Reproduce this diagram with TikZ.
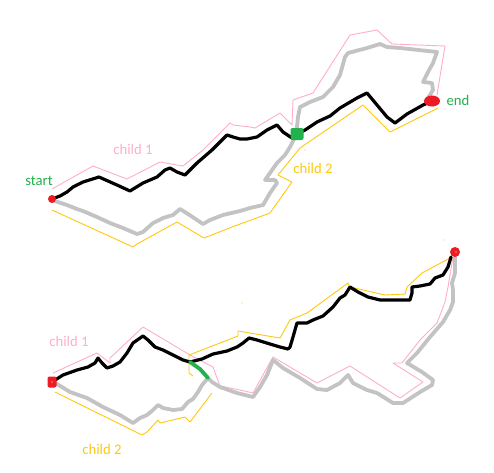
\documentclass[tikz,border=0pt]{standalone}
\usepackage{fontspec}
\setmainfont{Carlito}
\usetikzlibrary{shapes.geometric}
\definecolor{pgreen}{HTML}{22B14C}
\definecolor{ppink}{HTML}{FFAEC9}
\definecolor{pyellow}{HTML}{FFC90E}
\definecolor{pred}{HTML}{ED1C24}
\definecolor{pgray}{HTML}{C3C3C3}
\tikzset{
  blackpath/.style={draw=black,line width=3.2pt,line join=round,line cap=round},
  graypath/.style={draw=pgray,line width=3.8pt,line join=round,line cap=round},
  pinkline/.style={draw=ppink,line width=0.9pt,line join=round},
  yellowline/.style={draw=pyellow,line width=0.9pt,line join=round},
  greenpath/.style={draw=pgreen,line width=3.8pt,line cap=round},
  lbl/.style={font=\fontsize{14.7}{16}\selectfont,inner sep=0pt},
  reddot/.style={fill=pred,draw=none,inner sep=0pt},
}
\begin{document}
\begin{tikzpicture}[x=1pt,y=-1pt]
\useasboundingbox[fill=white] (0,0) rectangle (494,472);
% ---------- top sketch ----------
\coordinate (s1) at (52,199);
\coordinate (j1) at (297,134);
\coordinate (e1) at (432,101);
\draw[pinkline] (52,189)--(93,166)--(127,179)--(160,162)--(183,166)--(203,150)--(230,123)--(233,125)--(250,127)--(255,128)--(280,113)--(292,125)--(293,100)--(313,93)--(350,35)--(377,30)--(392,44)--(445,46)--(437,95);
\draw[yellowline] (52,210)--(133,247)--(137,244)--(177,222)--(204,238)--(232,227)--(270,213)--(292,182)--(278,175)--(300,148)--(363,105)--(390,132)--(438,108);
\fill[pyellow] (305,150) circle (0.6);
\draw[graypath] (s1)--(55,201)--(67,205)--(77,209)--(83,211)--(97,217)--(110,223)--(123,228)--(137,234)--(143,232)--(153,223)--(163,218)--(173,215)--(180,209)--(188,214)--(197,220)--(203,224)--(210,220)--(223,215)--(240,211)--(250,208)--(263,205)--(270,193)--(277,183)--(275,180)--(265,180)--(270,173)--(277,163)--(285,155)--(290,147)--(295,137)--(297,127)--(298,117)--(300,107)--(310,102)--(323,97)--(333,87)--(340,75)--(345,57)--(348,53)--(367,48)--(380,44)--(387,47)--(400,48)--(437,52)--(433,63)--(428,72)--(423,82)--(432,83)--(433,90)--(428,98)--(e1);
\draw[blackpath] (s1)--(60,196)--(67,192)--(73,187)--(83,182)--(99,177)--(117,185)--(130,191)--(143,183)--(157,177)--(165,170)--(170,168)--(177,172)--(185,175)--(197,163)--(212,150)--(227,135)--(233,137)--(240,139)--(247,139)--(257,137)--(267,130)--(277,125)--(283,132)--(292,138)--(j1)--(305,130)--(317,122)--(330,116)--(340,108)--(357,98)--(367,93)--(377,105)--(387,117)--(395,123)--(407,114)--(423,105)--(e1);
\node[reddot,circle,minimum size=8pt] (start1) at (s1) {};
\node[fill=pgreen,rounded corners=2pt,inner sep=0pt,minimum width=13pt,minimum height=12pt] (mid1) at (j1) {};
\node[reddot,ellipse,minimum width=16pt,minimum height=11pt] (end1) at (e1) {};
\node[lbl,text=pgreen] (tstart) at (39,181) {start};
\node[lbl,text=ppink] (tc11) at (133,149) {child 1};
\node[lbl,text=pgreen] (tend) at (458,100) {end};
\node[lbl,text=pyellow] (tc21) at (313,168) {child 2};
% ---------- bottom sketch ----------
\coordinate (s2) at (52,382);
\coordinate (j2) at (190,362);
\coordinate (k2) at (208,378);
\coordinate (e2) at (455,252);
\draw[pinkline] (53,373)--(97,353)--(110,363)--(110,358)--(143,327)--(190,355)--(213,367)--(220,386)--(240,390)--(253,393)--(273,357)--(317,383)--(350,366)--(400,398)--(423,382)--(393,363)--(402,363)--(420,340)--(437,323)--(445,302)--(448,287)--(453,257);
\fill[ppink] (444,240) circle (0.6);
\draw[yellowline] (55,392)--(142,435)--(147,432)--(158,420)--(160,423)--(185,417)--(190,422)--(212,393);
\draw[yellowline] (193,376)--(189,373)--(189,355)--(238,336)--(238,331)--(280,338)--(290,320)--(307,313)--(348,283)--(350,287)--(385,295)--(405,294)--(407,287)--(422,273)--(450,258);
\fill[pyellow] (242,303) circle (0.6);
\draw[graypath] (s2)--(57,384)--(70,392)--(87,398)--(103,407)--(120,415)--(133,423)--(140,418)--(147,415)--(153,410)--(158,405)--(163,408)--(173,410)--(182,409)--(188,402)--(193,399)--(198,392)--(202,385)--(k2)--(212,382)--(220,387)--(237,393)--(253,397)--(260,387)--(267,375)--(273,360)--(283,368)--(300,378)--(317,389)--(327,390)--(340,383)--(348,375)--(353,383)--(367,390)--(377,393)--(393,403)--(403,403)--(420,392)--(432,385)--(433,380)--(422,372)--(407,363)--(417,353)--(430,337)--(443,322)--(450,310)--(453,302)--(453,290)--(452,283)--(455,273)--(e2);
\draw[blackpath] (s2)--(63,375)--(77,370)--(88,367)--(95,363)--(98,358)--(102,363)--(107,368)--(113,366)--(120,362)--(127,353)--(133,343)--(143,336)--(148,340)--(155,347)--(163,350)--(173,355)--(183,360)--(j2)--(202,359)--(213,354)--(227,351)--(237,347)--(243,343)--(249,338)--(257,340)--(270,344)--(280,347)--(288,349)--(290,347)--(293,337)--(297,323)--(307,323)--(313,320)--(323,316)--(333,307)--(340,298)--(345,295)--(350,287)--(358,292)--(368,297)--(380,300)--(397,300)--(410,300)--(412,293)--(412,287)--(420,286)--(430,284)--(435,278)--(443,275)--(448,267)--(451,257);
\draw[greenpath] (j2)--(200,369)--(k2);
\node[reddot,rounded corners=2pt,minimum width=9pt,minimum height=11pt] (start2) at (s2) {};
\fill[white] (52,382) circle (0.7);
\node[reddot,circle,minimum size=10pt] (end2) at (e2) {};
\fill[white] (456,252) circle (0.7);
\node[lbl,text=ppink] (tc12) at (69,341) {child 1};
\node[lbl,text=pyellow] (tc22) at (102,449) {child 2};
\end{tikzpicture}
\end{document}
